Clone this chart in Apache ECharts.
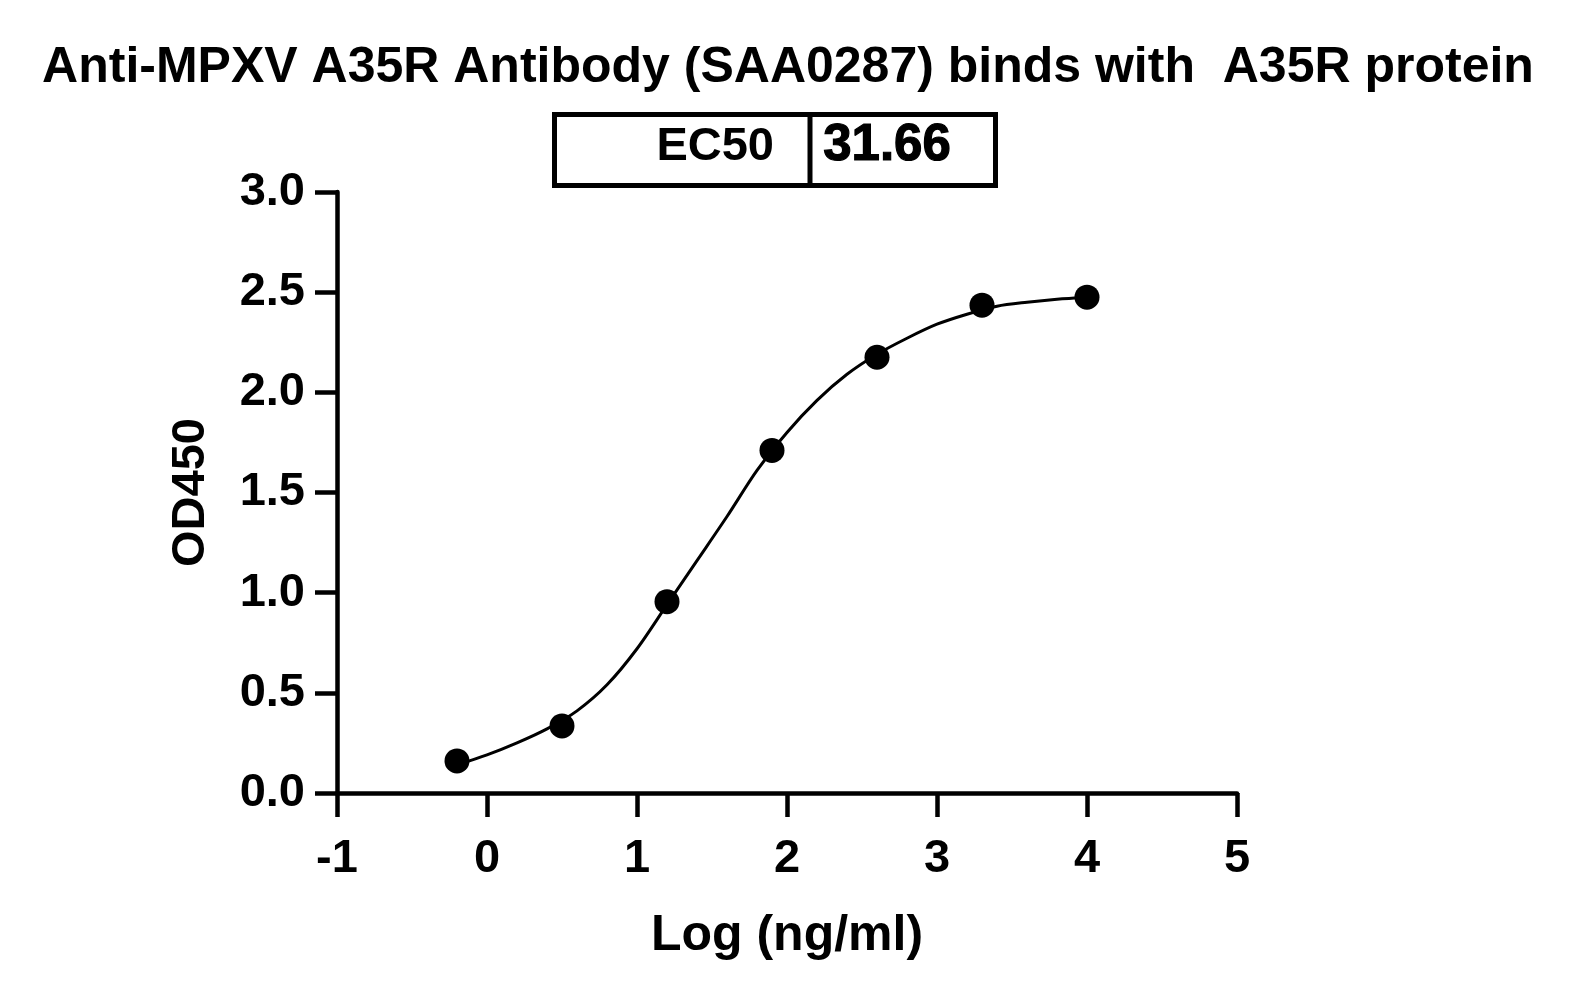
<!DOCTYPE html>
<html style="height: 100%">
<head>
    <meta charset="utf-8">
</head>
<body style="height: 100%; margin: 0; background: #fff">
    <div id="container" style="height: 100%"></div>
    <script type="text/javascript" src="https://cdn.jsdelivr.net/npm/echarts@6/dist/echarts.min.js"></script>
    <script type="text/javascript">
        // measured points: log concentration vs OD450
        var pointX = [-0.2, 0.5, 1.2, 1.9, 2.6, 3.3, 4.0];
        var pointY = [0.16, 0.335, 0.955, 1.71, 2.175, 2.435, 2.475];

        // fitted curve, every 0.2 log units
        var curveX = [-0.2, 0.0, 0.2, 0.4, 0.6, 0.8, 1.0, 1.2, 1.4, 1.6, 1.8, 2.0, 2.2, 2.4, 2.6, 2.8, 3.0, 3.2, 3.4, 3.6, 3.8, 4.0];
        var curveY = [0.14, 0.19, 0.25, 0.32, 0.41, 0.54, 0.72, 0.94, 1.16, 1.38, 1.61, 1.80, 1.96, 2.09, 2.19, 2.27, 2.34, 2.39, 2.43, 2.45, 2.465, 2.475];

        var ec50Label = 'EC50';
        var ec50Value = '31.66';

        var font = '"Liberation Sans", Arial, sans-serif';

        var dom = document.getElementById("container");
        var myChart = echarts.init(dom);

        var points = pointX.map(function (x, i) { return [x, pointY[i]]; });
        var curve = curveX.map(function (x, i) { return [x, curveY[i]]; });

        var option = {
            backgroundColor: '#fff',
            animation: false,
            title: {
                text: 'Anti-MPXV A35R Antibody (SAA0287) binds with  A35R protein',
                left: 'center',
                top: 38,
                textStyle: {
                    fontFamily: font,
                    fontWeight: 'bold',
                    fontSize: 50,
                    color: '#000'
                }
            },
            grid: {
                left: 337,
                right: 339,
                top: 192,
                bottom: 210
            },
            xAxis: {
                type: 'value',
                min: -1,
                max: 5,
                interval: 1,
                name: 'Log (ng/ml)',
                nameLocation: 'middle',
                nameGap: 118,
                nameTextStyle: {
                    fontFamily: font,
                    fontWeight: 'bold',
                    fontSize: 50,
                    color: '#000'
                },
                splitLine: { show: false },
                axisLine: { onZero: false, lineStyle: { color: '#000', width: 4.5 } },
                axisTick: { length: 24, lineStyle: { color: '#000', width: 4.5 } },
                axisLabel: {
                    margin: 43,
                    fontFamily: font,
                    fontWeight: 'bold',
                    fontSize: 47,
                    color: '#000'
                }
            },
            yAxis: {
                type: 'value',
                min: 0,
                max: 3,
                interval: 0.5,
                name: 'OD450',
                nameLocation: 'middle',
                nameGap: 122,
                nameTextStyle: {
                    fontFamily: font,
                    fontWeight: 'bold',
                    fontSize: 47,
                    color: '#000'
                },
                splitLine: { show: false },
                axisLine: { show: true, onZero: false, lineStyle: { color: '#000', width: 4.5 } },
                axisTick: { show: true, length: 22, lineStyle: { color: '#000', width: 4.5 } },
                axisLabel: {
                    margin: 32,
                    fontFamily: font,
                    fontWeight: 'bold',
                    fontSize: 47,
                    color: '#000',
                    formatter: function (v) { return v.toFixed(1); }
                }
            },
            graphic: [
                {
                    type: 'rect',
                    left: 552,
                    top: 112,
                    shape: { width: 441, height: 71 },
                    style: { fill: '#fff', stroke: '#000', lineWidth: 5 }
                },
                {
                    type: 'line',
                    shape: { x1: 810, y1: 112, x2: 810, y2: 183 },
                    style: { stroke: '#000', lineWidth: 5 }
                },
                {
                    type: 'text',
                    x: 774,
                    y: 147,
                    style: {
                        text: ec50Label,
                        fontFamily: font,
                        fontWeight: 'bold',
                        fontSize: 47,
                        fill: '#000',
                        align: 'right',
                        verticalAlign: 'middle'
                    }
                },
                {
                    type: 'text',
                    x: 887,
                    y: 146,
                    style: {
                        text: ec50Value,
                        fontFamily: font,
                        fontWeight: 'bold',
                        fontSize: 51,
                        fill: '#000',
                        stroke: '#000',
                        lineWidth: 1.2,
                        align: 'center',
                        verticalAlign: 'middle'
                    }
                }
            ],
            series: [
                {
                    name: 'fit',
                    type: 'line',
                    data: curve,
                    smooth: 0.3,
                    showSymbol: false,
                    lineStyle: { color: '#000', width: 3 },
                    z: 2
                },
                {
                    name: 'OD450',
                    type: 'scatter',
                    data: points,
                    symbol: 'circle',
                    symbolSize: 25,
                    itemStyle: { color: '#000', opacity: 1 },
                    z: 3
                }
            ]
        };

        myChart.setOption(option);
    </script>
</body>
</html>
